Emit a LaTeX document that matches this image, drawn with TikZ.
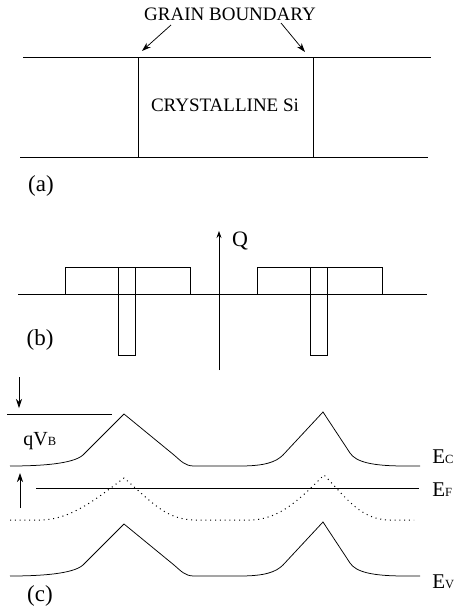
\documentclass[tikz,border=0pt]{standalone}
\usepackage{fontspec}
\setmainfont{Liberation Serif}
\usetikzlibrary{arrows.meta}
\newcommand{\lowsub}[1]{\raisebox{-0.1ex}{\fontsize{12.5}{13}\selectfont #1}}

\begin{document}
\begin{tikzpicture}[>={Stealth[length=9pt,width=6pt]},x=1pt,y=-1pt,line width=0.75pt,
  font=\fontsize{19}{22}\selectfont,
  partlabel/.style={font=\fontsize{23}{26}\selectfont},
  bandlabel/.style={anchor=base west,inner sep=0pt,font=\fontsize{21}{24}\selectfont},
  fermi/.style={line width=1pt,dash pattern=on 1pt off 3.8pt}]
  \useasboundingbox (0,0) rectangle (459,611);

  % (a) grain
  \coordinate (TL) at (23,57);
  \coordinate (TR) at (431,57);
  \coordinate (BL) at (20,157);
  \coordinate (BR) at (428,157);
  \coordinate (G1t) at (138,57);
  \coordinate (G1b) at (138,157);
  \coordinate (G2t) at (313,57);
  \coordinate (G2b) at (313,157);
  \draw (TL) -- (TR);
  \draw (BL) -- (BR);
  \draw (G1t) -- (G1b);
  \draw (G2t) -- (G2b);

  \node (gb) at (230,14) {GRAIN BOUNDARY};
  \node (si) at (225,105) {CRYSTALLINE Si};
  \coordinate (gbL) at (171,25);
  \coordinate (gbLtip) at (142,51);
  \coordinate (gbR) at (281,23);
  \coordinate (gbRtip) at (305,52);
  \draw[->] (gbL) -- (gbLtip);
  \draw[->] (gbR) -- (gbRtip);
  \node[partlabel] (la) at (41,186) {(a)};

  % (b) charge
  \coordinate (ax0) at (18,294);
  \coordinate (ax1) at (427,294);
  \coordinate (q0) at (219,370);
  \coordinate (q1) at (219,231);
  \draw (ax0) -- (ax1);
  \draw[-{Stealth[length=7pt,width=5pt]}] (q0) -- (q1);
  \node[font=\fontsize{22}{24}\selectfont] (Q) at (240,241) {Q};
  \draw (65,267) rectangle (190,294);
  \draw (118,267) rectangle (135,355);
  \draw (257,267) rectangle (382,294);
  \draw (310,267) rectangle (327,355);
  \node[partlabel] (lb) at (40,340) {(b)};

  % (c) bands
  \coordinate (d0) at (19,377);
  \coordinate (d1) at (19,408);
  \coordinate (u0) at (20,508);
  \coordinate (u1) at (20,473);
  \coordinate (top0) at (7,414);
  \coordinate (top1) at (112,414);
  \coordinate (EF0) at (36,488.5);
  \coordinate (EF1) at (419,488.5);
  \draw[->] (d0) -- (d1);
  \draw (top0) -- (top1);
  \draw[->] (u0) -- (u1);
  \draw (EF0) -- (EF1);

  % E_C and E_V
  \foreach \dy in {0,110}{
    \draw[yshift=-\dy pt] (10,466) .. controls (40,466) and (73,464) .. (83,455) -- (124,414)
      -- (174,455) .. controls (181,461) and (185,466) .. (194,466) -- (240,466)
      .. controls (265,466) and (276,462) .. (283,455) -- (323,412)
      -- (350,453) .. controls (356,462) and (372,466) .. (405,466) -- (420,466);
  }
  % E_i
  \draw[fermi] (10,520) -- (40,520) .. controls (70,520) and (95,500) .. (124,478)
    .. controls (150,500) and (165,520) .. (195,520) -- (250,520)
    .. controls (280,520) and (302,497) .. (324,475)
    .. controls (346,497) and (360,520) .. (390,520) -- (414,520);

  \node[anchor=base west,inner sep=0pt,font=\fontsize{20}{22}\selectfont] (qvb) at (23,445) {qV\lowsub{B}};
  \node[bandlabel] (EC) at (432,463) {E\lowsub{C}};
  \node[bandlabel] (EFl) at (432,496) {E\lowsub{F}};
  \node[bandlabel] (EV) at (432,588) {E\lowsub{V}};
  \node[partlabel] (lc) at (40,596) {(c)};
\end{tikzpicture}
\end{document}
